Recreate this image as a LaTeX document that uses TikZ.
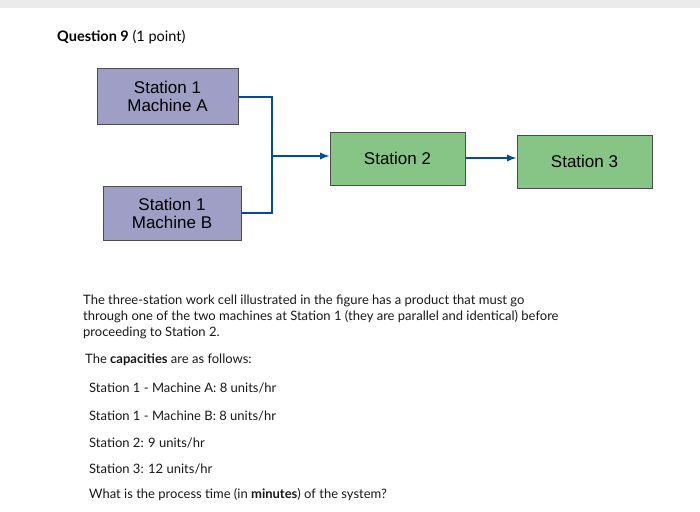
\documentclass[tikz,border=0pt]{standalone}
\usepackage{fontspec}
\setmainfont{Lato}
\newfontfamily\boxfont{Liberation Sans}
\begin{document}
\begin{tikzpicture}[x=1pt,y=-1pt,
  box/.style={draw=black!70,line width=1pt,font=\boxfont\fontsize{17}{18}\selectfont,align=center,inner sep=0pt},
  sone/.style={box,fill=blue!25!gray!60!white},
  stwo/.style={box,fill=green!35!gray!70!white},
  conn/.style={draw=blue!50!cyan!60!black,line width=2.2pt},
  arr/.style={conn,-latex},
  txt/.style={anchor=west,font=\fontsize{13}{16}\selectfont,text=black!90,inner sep=0pt}]
\useasboundingbox[fill=white] (0,0) rectangle (700,511);
\fill[black!8] (0,0) rectangle (700,8);
\node[anchor=west,inner sep=0pt,font=\fontsize{14.5}{15}\selectfont] (title) at (57,37) {\textbf{Question 9} (1 point)};
\node[sone,minimum width=141,minimum height=56] (a) at (167.5,96) {Station 1\\Machine A};
\node[sone,minimum width=138,minimum height=54] (b) at (172,213) {Station 1\\Machine B};
\node[stwo,minimum width=135,minimum height=53] (s2) at (397.5,158.5) {Station 2};
\node[stwo,minimum width=135,minimum height=53] (s3) at (584.5,161.5) {Station 3};
\coordinate (j1) at (272,97);
\coordinate (j2) at (272,213);
\coordinate (jm) at (272,156);
\draw[conn] (a.east |- j1) -- (j1) -- (j2) -- (b.east |- j2);
\draw[arr] (jm) -- (s2.west |- jm);
\draw[arr] (s2.east |- 0,158) -- (s3.west |- 0,158);
\node[txt,align=left,anchor=north west] (p) at (83,295) {The three-station work cell illustrated in the figure has a product that must go\\through one of the two machines at Station 1 (they are parallel and identical) before\\proceeding to Station 2.};
\node[txt] (t1) at (85,360) {The \textbf{capacities} are as follows:};
\node[txt] (t2) at (89,388) {Station 1 - Machine A: 8 units/hr};
\node[txt] (t3) at (89,416) {Station 1 - Machine B: 8 units/hr};
\node[txt] (t4) at (89,443) {Station 2: 9 units/hr};
\node[txt] (t5) at (89,469) {Station 3: 12 units/hr};
\node[txt] (t6) at (89,495) {What is the process time (in \textbf{minutes}) of the system?};
\end{tikzpicture}
\end{document}
